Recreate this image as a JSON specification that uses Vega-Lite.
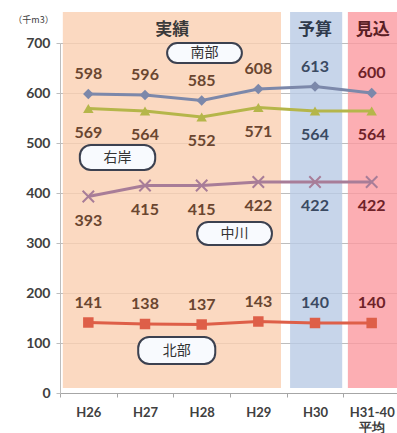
{
  "$schema": "https://vega.github.io/schema/vega-lite/v6.json",
  "autosize": "none",
  "width": 340,
  "height": 350,
  "padding": {"left": 60, "top": 43, "right": 0, "bottom": 40},
  "background": "white",
  "config": {"view": {"stroke": null}},
  "datasets": {
    "series": [
      {"year": "H26", "series": "南部", "value": 598, "period": "実績"},
      {"year": "H27", "series": "南部", "value": 596, "period": "実績"},
      {"year": "H28", "series": "南部", "value": 585, "period": "実績"},
      {"year": "H29", "series": "南部", "value": 608, "period": "実績"},
      {"year": "H30", "series": "南部", "value": 613, "period": "予算"},
      {"year": "H31-40", "series": "南部", "value": 600, "period": "見込"},
      {"year": "H26", "series": "右岸", "value": 569, "period": "実績"},
      {"year": "H27", "series": "右岸", "value": 564, "period": "実績"},
      {"year": "H28", "series": "右岸", "value": 552, "period": "実績"},
      {"year": "H29", "series": "右岸", "value": 571, "period": "実績"},
      {"year": "H30", "series": "右岸", "value": 564, "period": "予算"},
      {"year": "H31-40", "series": "右岸", "value": 564, "period": "見込"},
      {"year": "H26", "series": "中川", "value": 393, "period": "実績"},
      {"year": "H27", "series": "中川", "value": 415, "period": "実績"},
      {"year": "H28", "series": "中川", "value": 415, "period": "実績"},
      {"year": "H29", "series": "中川", "value": 422, "period": "実績"},
      {"year": "H30", "series": "中川", "value": 422, "period": "予算"},
      {"year": "H31-40", "series": "中川", "value": 422, "period": "見込"},
      {"year": "H26", "series": "北部", "value": 141, "period": "実績"},
      {"year": "H27", "series": "北部", "value": 138, "period": "実績"},
      {"year": "H28", "series": "北部", "value": 137, "period": "実績"},
      {"year": "H29", "series": "北部", "value": 143, "period": "実績"},
      {"year": "H30", "series": "北部", "value": 140, "period": "予算"},
      {"year": "H31-40", "series": "北部", "value": 140, "period": "見込"}
    ],
    "bands": [
      {"period": "実績", "x0": 0.05, "x1": 3.9, "y0": 10, "y1": 762, "lx": 1.98, "ly": 726},
      {"period": "予算", "x0": 4.06, "x1": 4.98, "y0": 10, "y1": 762, "lx": 4.5, "ly": 726},
      {"period": "見込", "x0": 5.08, "x1": 6.0, "y0": 10, "y1": 762, "lx": 5.52, "ly": 726}
    ],
    "boxes": [
      {"name": "南部", "x0": 1.89, "x1": 3.21, "y0": 660, "y1": 700, "cx": 2.55, "cy": 680},
      {"name": "右岸", "x0": 0.35, "x1": 1.68, "y0": 446, "y1": 496, "cx": 1.015, "cy": 471},
      {"name": "中川", "x0": 2.42, "x1": 3.74, "y0": 296, "y1": 342, "cx": 3.08, "cy": 319},
      {"name": "北部", "x0": 1.38, "x1": 2.74, "y0": 58, "y1": 112, "cx": 2.06, "cy": 85}
    ]
  },
  "layer": [
    {
      "data": {"name": "bands"},
      "layer": [
        {
          "mark": {"type": "rect", "opacity": 0.8},
          "encoding": {
            "x": {"field": "x0", "type": "quantitative", "scale": {"domain": [0, 6], "nice": false, "zero": false}, "axis": null},
            "x2": {"field": "x1"},
            "y": {"field": "y0", "type": "quantitative"},
            "y2": {"field": "y1"},
            "fill": {"field": "period", "type": "nominal", "scale": {"domain": ["実績", "予算", "見込"], "range": ["#FAD0B2", "#B9CBE5", "#FB9AA0"]}, "legend": null}
          }
        },
        {
          "mark": {"type": "text", "font": "Noto Sans CJK JP", "fontSize": 17, "fontWeight": "bold", "align": "center", "baseline": "middle"},
          "encoding": {
            "x": {"field": "lx", "type": "quantitative"},
            "y": {"field": "ly", "type": "quantitative"},
            "text": {"field": "period"},
            "color": {"field": "period", "type": "nominal", "scale": {"domain": ["実績", "予算", "見込"], "range": ["#3A3A3A", "#2F3A4C", "#5A2025"]}, "legend": null}
          }
        }
      ]
    },
    {
      "data": {"name": "series"},
      "encoding": {
        "x": {
          "field": "year", "type": "nominal", "sort": null,
          "scale": {"paddingInner": 0, "paddingOuter": 0},
          "axis": {
            "orient": "bottom",
            "title": null, "labelAngle": 0, "tickBand": "extent", "domainColor": "#A6A6A6", "tickColor": "#A6A6A6", "tickSize": 4,
            "labelFont": "Lato", "labelFontWeight": "bold", "labelFontSize": 13, "labelColor": "#404040", "labelPadding": 9,
            "labelExpr": "datum.value == 'H31-40' ? ['H31-40', '平均'] : datum.value"
          }
        },
        "y": {
          "field": "value", "type": "quantitative",
          "scale": {"domain": [0, 700], "nice": false},
          "axis": {
            "orient": "left",
            "values": [0, 100, 200, 300, 400, 500, 600, 700], "grid": true, "gridColor": "#BDBDBD", "domainColor": "#BDBDBD", "tickColor": "#BDBDBD", "tickSize": 4,
            "labelFont": "Lato", "labelFontWeight": "bold", "labelFontSize": 14, "labelColor": "#404040", "labelPadding": 6,
            "title": "（千m3）", "titleAngle": 0, "titleFont": "Noto Sans CJK JP", "titleFontSize": 9, "titleFontWeight": "normal", "titleColor": "#404040",
            "titleX": -27, "titleY": -24, "titleAlign": "center", "titleBaseline": "middle"
          }
        },
        "color": {"field": "series", "type": "nominal", "scale": {"domain": ["南部", "右岸", "中川", "北部"], "range": ["#7C88AA", "#B5B64A", "#A87D98", "#DE5F48"]}, "legend": null}
      },
      "layer": [
        {"mark": {"type": "line", "strokeWidth": 3}},
        {
          "transform": [{"filter": "datum.series != '中川'"}],
          "mark": {"type": "point", "filled": true, "opacity": 1},
          "encoding": {
            "shape": {"field": "series", "type": "nominal", "scale": {"domain": ["南部", "右岸", "北部"], "range": ["diamond", "triangle-up", "square"]}, "legend": null},
            "size": {"value": 110}
          }
        },
        {
          "transform": [{"filter": "datum.series == '中川'"}],
          "mark": {"type": "point", "filled": false, "shape": "M-1,-1L1,1M-1,1L1,-1", "strokeWidth": 2, "size": 130, "opacity": 1}
        },
        {
          "transform": [{"filter": "datum.series == '南部' || datum.series == '北部'"}],
          "mark": {"type": "text", "font": "Lato", "fontWeight": "bold", "fontSize": 16, "dy": -20, "baseline": "middle"},
          "encoding": {
            "text": {"field": "value"},
            "color": {"value": null},
            "fill": {"field": "period", "type": "nominal", "scale": {"domain": ["実績", "予算", "見込"], "range": ["#6A4630", "#3B4A62", "#6E2228"]}, "legend": null}
          }
        },
        {
          "transform": [{"filter": "datum.series == '右岸' || datum.series == '中川'"}],
          "mark": {"type": "text", "font": "Lato", "fontWeight": "bold", "fontSize": 16, "dy": 24, "baseline": "middle"},
          "encoding": {
            "text": {"field": "value"},
            "color": {"value": null},
            "fill": {"field": "period", "type": "nominal", "legend": null}
          }
        }
      ]
    },
    {
      "data": {"name": "boxes"},
      "layer": [
        {
          "mark": {"type": "rect", "fill": "#F8FAFE", "stroke": "#3C4150", "strokeWidth": 2, "cornerRadius": 11},
          "encoding": {
            "x": {"field": "x0", "type": "quantitative", "scale": {"domain": [0, 6], "nice": false, "zero": false}, "axis": null},
            "x2": {"field": "x1"},
            "y": {"field": "y0", "type": "quantitative"},
            "y2": {"field": "y1"}
          }
        },
        {
          "mark": {"type": "text", "font": "Noto Sans CJK JP", "fontSize": 14, "color": "#333333", "align": "center", "baseline": "middle"},
          "encoding": {
            "x": {"field": "cx", "type": "quantitative"},
            "y": {"field": "cy", "type": "quantitative"},
            "text": {"field": "name"}
          }
        }
      ]
    }
  ],
  "resolve": {"scale": {"x": "independent", "color": "independent", "fill": "independent"}}
}
